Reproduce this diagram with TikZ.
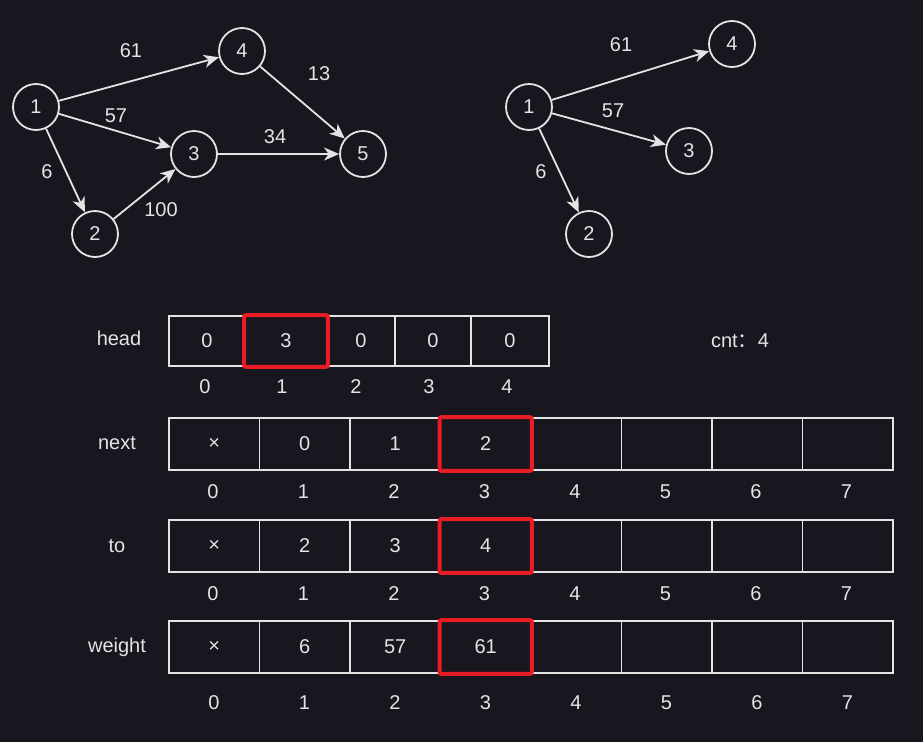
\documentclass[tikz,border=0pt]{standalone}
\usepackage{fontspec}
\setmainfont{Liberation Sans}
\newfontfamily\cjk{Noto Sans CJK SC}
\usepackage{xcolor}
\usetikzlibrary{positioning,calc,arrows.meta}

\definecolor{bgdark}{RGB}{24,22,31}
\definecolor{lineg}{RGB}{228,228,228}
\definecolor{hlred}{RGB}{232,28,36}

\begin{document}
\begin{tikzpicture}[x=1pt,y=-1pt,
    every node/.style={text=lineg, font=\fontsize{20}{23}\selectfont},
    vert/.style={draw=lineg, line width=1.8pt, circle, minimum size=46pt, inner sep=0pt},
    link/.style={draw=lineg, line width=1.8pt, -{Stealth[length=15pt,width=13pt,inset=4.5pt]}},
    cell/.style={draw=lineg, line width=1.8pt, minimum width=90.5pt, minimum height=52pt, inner sep=0pt, anchor=west},
    hcell/.style={cell, minimum height=50pt},
    hl/.style={draw=hlred, line width=4pt, rounded corners=2pt}]
    % Background
    \fill[bgdark] (0,0) rectangle (923,742);
    \useasboundingbox (0,0) rectangle (923,742);

    % Graph
    \node[vert] (a1) at (36,107) {1};
    \node[vert] (a2) at (95,234) {2};
    \node[vert] (a3) at (194,154) {3};
    \node[vert] (a4) at (242,51) {4};
    \node[vert] (a5) at (363,154) {5};
    \draw[link] (a1) -- (a4); \node at (131,51) {61};
    \draw[link] (a1) -- (a3); \node at (116,116) {57};
    \draw[link] (a1) -- (a2); \node at (47,172) {6};
    \draw[link] (a2) -- (a3); \node at (161,210) {100};
    \draw[link] (a4) -- (a5); \node at (319,74) {13};
    \draw[link] (a3) -- (a5); \node at (275,137) {34};

    % Edges of node 1
    \node[vert] (b1) at (529,107) {1};
    \node[vert] (b2) at (589,234) {2};
    \node[vert] (b3) at (689,151) {3};
    \node[vert] (b4) at (732,44) {4};
    \draw[link] (b1) -- (b4); \node at (621,45) {61};
    \draw[link] (b1) -- (b3); \node at (613,111) {57};
    \draw[link] (b1) -- (b2); \node at (541,172) {6};

    % head
    \node at (119,338) {head};
    \foreach \v/\x/\w/\ix [count=\i from 0] in {0/168/76/205, 3/244/82/282, 0/326/68/356, 0/394/76/429, 0/470/78/507} {
        \node[hcell, minimum width=\w pt] (head-\i) at (\x,341) {\v};
        \node at (\ix,387) {\i};
    }
    \draw[hl] (head-1.north west) rectangle (head-1.south east);
    \node at (740,341) {cnt{\cjk ：}4};

    % next
    \node at (117,443) {next};
    \foreach \v [count=\i from 0] in {×,0,1,2,{},{},{},{}} {
        \node[cell] (next-\i) at (168+90.5*\i,444) {\v};
        \node at (213+90.5*\i,492) {\i};
    }
    \draw[hl] (next-3.north west) rectangle (next-3.south east);

    % to
    \node at (117,546) {to};
    \foreach \v [count=\i from 0] in {×,2,3,4,{},{},{},{}} {
        \node[cell] (to-\i) at (168+90.5*\i,546) {\v};
        \node at (213+90.5*\i,594) {\i};
    }
    \draw[hl] (to-3.north west) rectangle (to-3.south east);

    % weight
    \node at (117,647) {weight};
    \foreach \v [count=\i from 0] in {×,6,57,61,{},{},{},{}} {
        \node[cell] (weight-\i) at (168+90.5*\i,647) {\v};
        \node at (214+90.5*\i,703) {\i};
    }
    \draw[hl] (weight-3.north west) rectangle (weight-3.south east);
\end{tikzpicture}
\end{document}
